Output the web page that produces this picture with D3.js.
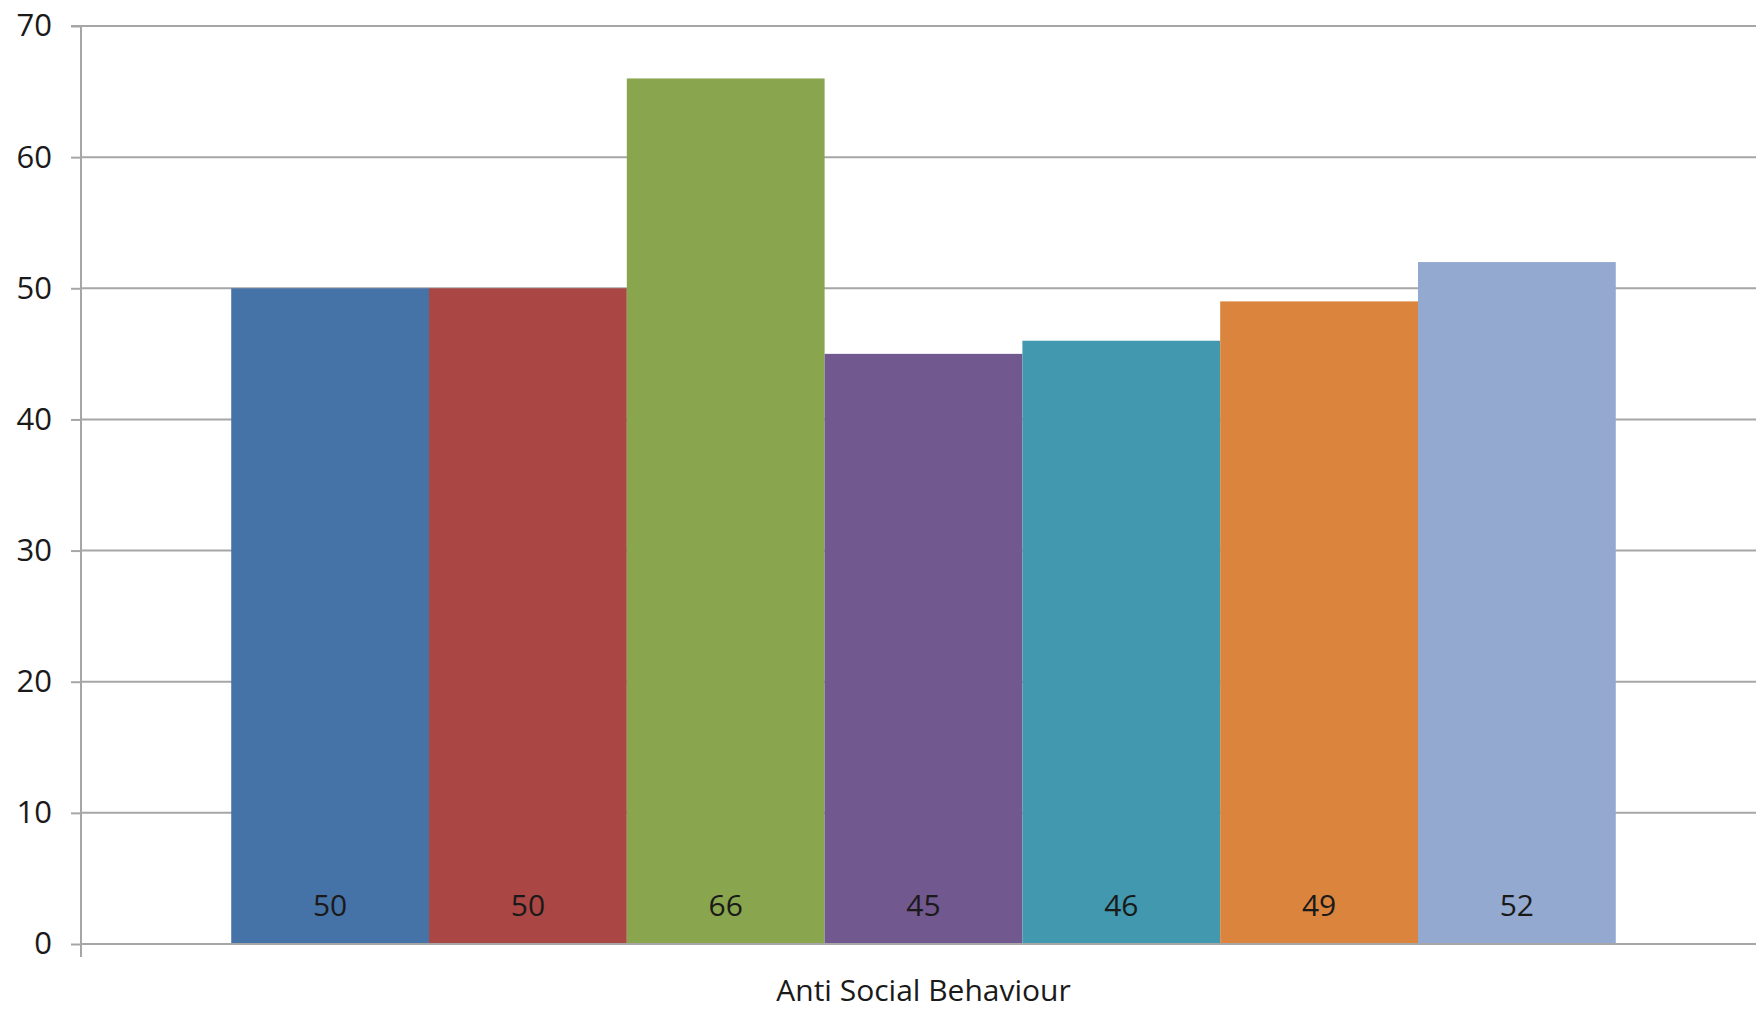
<!DOCTYPE html>
<html>
<head>
<meta charset="utf-8">
<script src="https://cdn.jsdelivr.net/npm/d3@7"></script>
<style>
  html, body { margin: 0; padding: 0; background: #fff; }
  svg { display: block; }
  text { font-family: "Open Sans", "Liberation Sans", sans-serif; fill: #1a1a1a; }
</style>
</head>
<body>
<svg id="chart" width="1756" height="1010"></svg>
<script>
// ---- data ----
const categories = ["Anti Social Behaviour"];
const seriesNames = ["Series 1", "Series 2", "Series 3", "Series 4", "Series 5", "Series 6", "Series 7"];
const seriesValues = [50, 50, 66, 45, 46, 49, 52];
const seriesColors = ["#4572A7", "#AA4643", "#89A54E", "#71588F", "#4198AF", "#DB843D", "#93A9CF"];
const yTicks = [0, 10, 20, 30, 40, 50, 60, 70];

// ---- layout ----
const W = 1756, H = 1010;
const plotLeft = 81, plotRight = 1766, plotTop = 26, plotBottom = 944;

const svg = d3.select("#chart");

const y = d3.scaleLinear().domain([0, 70]).range([plotBottom, plotTop]);
const x0 = d3.scaleBand().domain(categories).range([plotLeft, plotRight])
  .paddingInner(0).paddingOuter(0.1085);
const x1 = d3.scaleBand().domain(seriesNames).range([0, x0.bandwidth()]).padding(0);

// gridlines
svg.append("g").selectAll("line")
  .data(yTicks.filter(t => t > 0))
  .join("line")
  .attr("x1", plotLeft).attr("x2", W)
  .attr("y1", d => y(d)).attr("y2", d => y(d))
  .attr("stroke", "#a6a6a6").attr("stroke-width", 2);

// bars
const data = seriesNames.map((s, i) => ({ series: s, value: seriesValues[i], color: seriesColors[i], cat: categories[0] }));
const gBars = svg.append("g");
gBars.selectAll("rect")
  .data(data)
  .join("rect")
  .attr("x", d => x0(d.cat) + x1(d.series))
  .attr("y", d => y(d.value))
  .attr("width", x1.bandwidth())
  .attr("height", d => y(0) - y(d.value))
  .attr("fill", d => d.color);

// value labels (inside base)
gBars.selectAll("text.val")
  .data(data)
  .join("text")
  .attr("class", "val")
  .attr("x", d => x0(d.cat) + x1(d.series) + x1.bandwidth() / 2)
  .attr("y", y(0) - 28)
  .attr("text-anchor", "middle")
  .attr("font-size", 30)
  .text(d => d.value);

// y axis
const yAxis = svg.append("g")
  .attr("transform", `translate(${plotLeft},0)`)
  .call(d3.axisLeft(y).tickValues(yTicks).tickSize(10).tickPadding(19).tickFormat(d3.format("d")));
yAxis.select(".domain").attr("stroke", "#a6a6a6").attr("stroke-width", 2)
  .attr("d", `M-10,${plotTop}H0V${plotBottom + 13}`);
yAxis.selectAll(".tick line").attr("stroke", "#a6a6a6").attr("stroke-width", 2);
yAxis.selectAll(".tick text").attr("font-size", 31).attr("fill", "#1a1a1a")
  .style("font-family", "'Open Sans', 'Liberation Sans', sans-serif");

// x axis
const xAxis = svg.append("g")
  .attr("transform", `translate(0,${plotBottom})`)
  .call(d3.axisBottom(x0).tickSize(0).tickPadding(36));
xAxis.select(".domain").attr("stroke", "#a6a6a6").attr("stroke-width", 2)
  .attr("d", `M${plotLeft},0H${plotRight}`);
xAxis.selectAll(".tick text").attr("font-size", 30).attr("fill", "#1a1a1a")
  .style("font-family", "'Open Sans', 'Liberation Sans', sans-serif");
</script>
</body>
</html>
